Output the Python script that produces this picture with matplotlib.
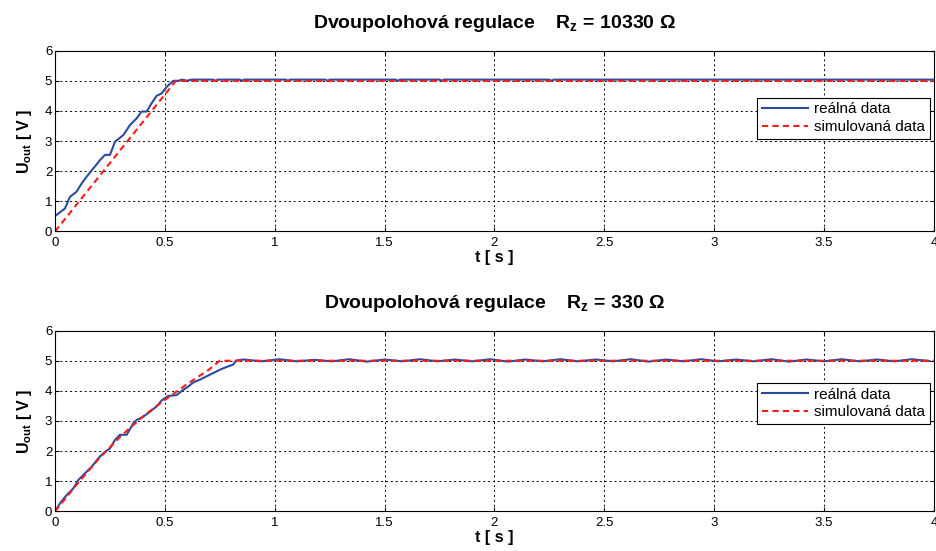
import numpy as np
import matplotlib
matplotlib.use("Agg")
import matplotlib.pyplot as plt

plt.rcParams['font.family'] = ['Liberation Sans', 'DejaVu Sans']
plt.rcParams['mathtext.fontset'] = 'custom'
plt.rcParams['mathtext.rm'] = 'Liberation Sans'
plt.rcParams['mathtext.bf'] = 'Liberation Sans:bold'
plt.rcParams['mathtext.default'] = 'bf'

# --- top panel, Rz = 10330 ohm ---
t_real_1 = [0, 0.045, 0.068, 0.098, 0.121, 0.144, 0.174, 0.205, 0.227, 0.25, 0.273,
            0.311, 0.341, 0.371, 0.394, 0.417, 0.439, 0.462, 0.485, 0.508, 0.538,
            0.56, 0.58, 0.60, 0.62, 0.72, 0.73, 0.74, 0.84, 0.85, 0.86, 1.05, 1.06,
            1.07, 1.23, 1.24, 1.25, 1.55, 1.56, 1.57, 1.75, 1.76, 1.77, 2.25, 2.26,
            2.27, 4.0]
u_real_1 = [0.51, 0.76, 1.15, 1.32, 1.59, 1.82, 2.09, 2.37, 2.54, 2.54, 2.98,
            3.2, 3.53, 3.75, 3.98, 3.98, 4.25, 4.5, 4.58, 4.8, 5.0,
            5.0, 5.04, 5.0, 5.04, 5.04, 5.0, 5.04, 5.04, 5.0, 5.04, 5.04, 5.0,
            5.04, 5.04, 5.0, 5.04, 5.04, 5.0, 5.04, 5.04, 5.0, 5.04, 5.04, 5.0,
            5.04, 5.04]
t_sim_1 = [0, 0.55, 4.0]
u_sim_1 = [0, 5.0, 5.0]

# --- bottom panel, Rz = 330 ohm ---
t_real_2 = [0, 0.023, 0.053, 0.083, 0.106, 0.136, 0.167, 0.197, 0.22, 0.25, 0.273,
            0.295, 0.326, 0.356, 0.371, 0.402, 0.432, 0.462, 0.485, 0.515, 0.553,
            0.583, 0.606, 0.629, 0.659, 0.689, 0.72, 0.75, 0.78, 0.81, 0.826,
            0.86, 0.94, 1.02, 1.10, 1.18, 1.26, 1.34, 1.42, 1.50, 1.58, 1.66, 1.74,
            1.82, 1.90, 1.98, 2.06, 2.14, 2.22, 2.30, 2.38, 2.46, 2.54, 2.62, 2.70,
            2.78, 2.86, 2.94, 3.02, 3.10, 3.18, 3.26, 3.34, 3.42, 3.50, 3.58, 3.66,
            3.74, 3.82, 3.90, 3.98]
u_real_2 = [0, 0.27, 0.54, 0.76, 1.04, 1.26, 1.48, 1.76, 1.93, 2.09, 2.37,
            2.54, 2.54, 2.92, 3.03, 3.14, 3.31, 3.48, 3.68, 3.83, 3.86,
            4.03, 4.14, 4.28, 4.37, 4.48, 4.59, 4.7, 4.79, 4.87, 5.01,
            5.04, 4.98, 5.05, 4.98, 5.03, 4.98, 5.05, 4.97, 5.04, 4.98, 5.05, 4.98,
            5.04, 4.98, 5.05, 4.97, 5.04, 4.98, 5.05, 4.98, 5.04, 4.98, 5.05, 4.97,
            5.04, 4.98, 5.05, 4.98, 5.04, 4.98, 5.05, 4.97, 5.04, 4.98, 5.05, 4.98,
            5.04, 4.98, 5.05, 4.99]
t_sim_2 = [0, 0.1, 0.2, 0.3, 0.4, 0.5, 0.6, 0.7, 0.75, 4.0]
u_sim_2 = [0, 0.9, 1.75, 2.5, 3.15, 3.7, 4.22, 4.7, 5.0, 5.0]

panels = [
    (r'Dvoupolohová regulace    R$_{z}$ = 10330 Ω', t_real_1, u_real_1, t_sim_1, u_sim_1, 0.74),
    (r'Dvoupolohová regulace    R$_{z}$ = 330 Ω', t_real_2, u_real_2, t_sim_2, u_sim_2, 0.71),
]

fig = plt.figure(figsize=(9.36, 5.51), dpi=100)
rects = [[0.0588, 0.580, 0.939, 0.328], [0.0588, 0.072, 0.939, 0.328]]

for rect, (title, tr, ur, ts, us, leg_y) in zip(rects, panels):
    ax = fig.add_axes(rect)
    ax.plot(tr, ur, color='#2b4c9e', lw=1.5, label='reálná data')
    ax.plot(ts, us, color='#ff1a1a', lw=1.5, ls=(0, (3, 2)), label='simulovaná data')
    ax.set_xlim(0, 4)
    ax.set_ylim(0, 6)
    ax.set_xticks(np.arange(0, 4.01, 0.5))
    ax.set_xticklabels(['0', '0.5', '1', '1.5', '2', '2.5', '3', '3.5', '4'])
    ax.set_yticks(range(7))
    ax.tick_params(direction='in', top=True, right=True, labelsize=9.5, length=3)
    ax.tick_params(axis='x', pad=4)
    ax.tick_params(axis='y', pad=2)
    ax.grid(True, color='black', ls=(0, (2, 3)), lw=0.7)
    ax.set_title(title, fontsize=14, fontweight='bold', pad=16)
    ax.set_xlabel('t [ s ]', fontsize=11.5, fontweight='bold', labelpad=1)
    ax.set_ylabel(r'U$_{out}$ [ V ]', fontsize=11.5, fontweight='bold', labelpad=8)
    leg = ax.legend(loc='upper right', bbox_to_anchor=(0.995, leg_y), fontsize=11,
                    fancybox=False, edgecolor='black', framealpha=1,
                    handlelength=3.0, borderpad=0.3, labelspacing=0.25, handletextpad=0.4,
                    borderaxespad=0)
    leg.get_frame().set_linewidth(0.8)

fig.savefig('out.png', dpi=100)
